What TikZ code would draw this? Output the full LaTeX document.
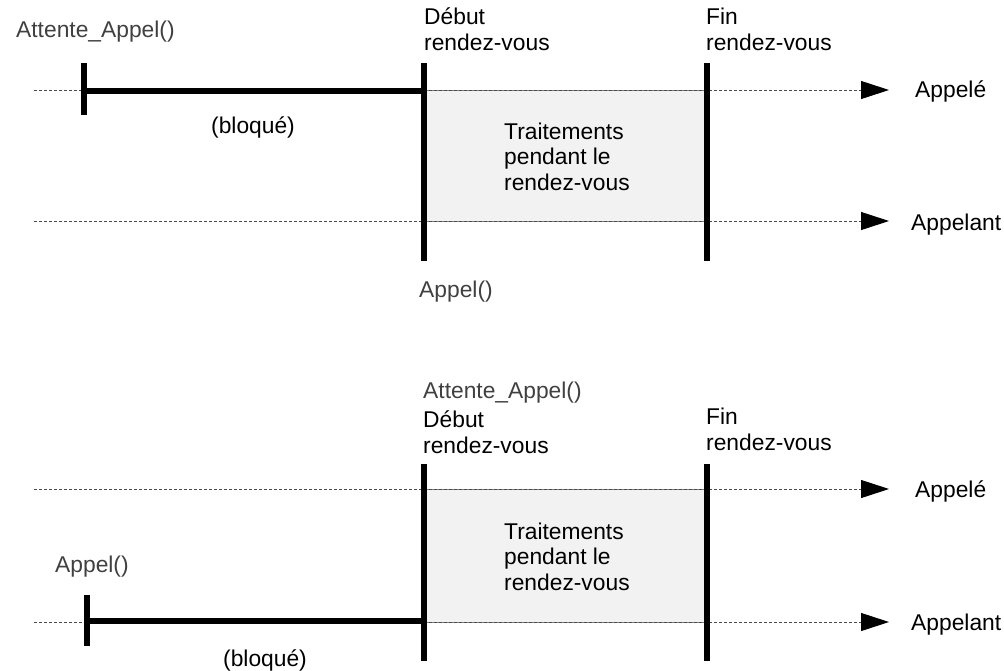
\documentclass[tikz,border=0pt]{standalone}
\usepackage{fontspec}
\setmainfont{Liberation Sans}
\usetikzlibrary{arrows.meta}
\definecolor{boxfill}{HTML}{F2F2F2}
\definecolor{boxline}{HTML}{7F7F7F}
\definecolor{dashcol}{HTML}{4A4A4A}
\definecolor{calltext}{HTML}{404040}
\tikzset{
  lbl/.style={inner sep=0pt, anchor=base west, font=\fontsize{22.8}{25.5}\selectfont, align=left},
  lblc/.style={lbl, anchor=base},
  calllbl/.style={lbl, text=calltext},
  timeline/.style={draw=dashcol, line width=1pt, dash pattern=on 3pt off 2pt,
    -{Triangle[length=28pt,width=18pt,color=black,fill=black]}},
  bar/.style={line width=6pt, line cap=butt, draw=black},
  rdvbox/.style={fill=boxfill, draw=boxline, line width=1pt},
}
\begin{document}
\begin{tikzpicture}[x=1pt,y=-1pt]
\useasboundingbox (0,0) rectangle (1004,670);

% ===== top diagram =====
\coordinate (a1s) at (34,90);  \coordinate (a1e) at (889,90);
\coordinate (b1s) at (34,221); \coordinate (b1e) at (889,221);
\node[rdvbox, minimum width=283pt, minimum height=131pt, inner sep=0pt, anchor=north west] (box1) at (424,90) {};
\draw[timeline] (a1s) -- (a1e);
\draw[timeline] (b1s) -- (b1e);
\coordinate (d1t) at (424,63); \coordinate (d1b) at (424,261);
\coordinate (f1t) at (707,63); \coordinate (f1b) at (707,261);
\coordinate (w1t) at (84,63);  \coordinate (w1b) at (84,115);
\coordinate (w1m) at (84,91);  \coordinate (d1m) at (424,91);
\draw[bar] (w1m) -- (d1m);
\draw[bar] (w1t) -- (w1b);
\draw[bar] (d1t) -- (d1b);
\draw[bar] (f1t) -- (f1b);

\node[calllbl] (att1) at (16,37) {Attente\_Appel()};
\node[lbl] (deb1) at (424,50) {Début\\rendez-vous};
\node[lbl] (fin1) at (706,50) {Fin\\rendez-vous};
\node[lblc] (blq1) at (253,133) {(bloqué)};
\node[lbl] (trt1) at (504,190) {Traitements\\pendant le\\rendez-vous};
\node[lbl] (ape1) at (915,97) {Appelé};
\node[lbl] (apl1) at (911,230) {Appelant};
\node[calllbl] (cal1) at (419,297) {Appel()};

% ===== bottom diagram =====
\coordinate (a2s) at (34,489);  \coordinate (a2e) at (889,489);
\coordinate (b2s) at (34,622);  \coordinate (b2e) at (889,622);
\node[rdvbox, minimum width=283pt, minimum height=133pt, inner sep=0pt, anchor=north west] (box2) at (424,489) {};
\draw[timeline] (a2s) -- (a2e);
\draw[timeline] (b2s) -- (b2e);
\coordinate (d2t) at (424,464); \coordinate (d2b) at (424,661);
\coordinate (f2t) at (707,464); \coordinate (f2b) at (707,661);
\coordinate (w2t) at (87,595);  \coordinate (w2b) at (87,646);
\coordinate (w2m) at (87,621);  \coordinate (d2m) at (424,621);
\draw[bar] (w2m) -- (d2m);
\draw[bar] (w2t) -- (w2b);
\draw[bar] (d2t) -- (d2b);
\draw[bar] (f2t) -- (f2b);

\node[calllbl] (att2) at (423,398) {Attente\_Appel()};
\node[lbl] (deb2) at (423,453) {Début\\rendez-vous};
\node[lbl] (fin2) at (706,450) {Fin\\rendez-vous};
\node[calllbl] (cal2) at (55,572) {Appel()};
\node[lblc] (blq2) at (265,666) {(bloqué)};
\node[lbl] (trt2) at (504,590) {Traitements\\pendant le\\rendez-vous};
\node[lbl] (ape2) at (915,497) {Appelé};
\node[lbl] (apl2) at (911,630) {Appelant};
\end{tikzpicture}
\end{document}
